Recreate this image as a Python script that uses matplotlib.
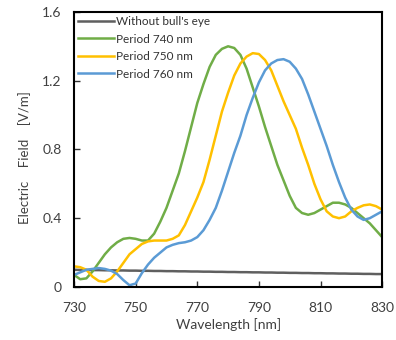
import matplotlib
matplotlib.use("Agg")
import matplotlib.pyplot as plt

plt.rcParams['font.family'] = ['Lato', 'DejaVu Sans']

# wavelength grid (nm)
wl = [730, 732, 734, 736, 738, 740, 742, 744, 746, 748, 750, 752, 754, 756, 758,
      760, 762, 764, 766, 768, 770, 772, 774, 776, 778, 780, 782, 784, 786, 788,
      790, 792, 794, 796, 798, 800, 802, 804, 806, 808, 810, 812, 814, 816, 818,
      820, 822, 824, 826, 828, 830]

no_eye = [0.100, 0.099, 0.099, 0.098, 0.098, 0.097, 0.097, 0.096, 0.096, 0.095,
          0.095, 0.094, 0.094, 0.093, 0.093, 0.092, 0.092, 0.091, 0.091, 0.090,
          0.090, 0.089, 0.089, 0.088, 0.088, 0.087, 0.087, 0.086, 0.086, 0.085,
          0.085, 0.084, 0.084, 0.083, 0.083, 0.082, 0.082, 0.081, 0.081, 0.080,
          0.080, 0.079, 0.079, 0.078, 0.078, 0.077, 0.077, 0.076, 0.076, 0.075,
          0.075]

p740 = [0.07, 0.045, 0.05, 0.09, 0.14, 0.19, 0.23, 0.26, 0.28, 0.285,
        0.28, 0.27, 0.27, 0.31, 0.38, 0.46, 0.56, 0.66, 0.79, 0.93,
        1.07, 1.18, 1.28, 1.35, 1.385, 1.40, 1.39, 1.35, 1.27, 1.16,
        1.05, 0.93, 0.82, 0.71, 0.62, 0.53, 0.46, 0.43, 0.42, 0.43,
        0.45, 0.47, 0.49, 0.49, 0.48, 0.46, 0.43, 0.40, 0.37, 0.33,
        0.29]

p750 = [0.12, 0.115, 0.10, 0.06, 0.035, 0.03, 0.05, 0.09, 0.14, 0.19,
        0.22, 0.25, 0.265, 0.27, 0.27, 0.27, 0.28, 0.30, 0.36, 0.44,
        0.52, 0.61, 0.74, 0.88, 1.02, 1.13, 1.23, 1.30, 1.34, 1.36,
        1.355, 1.32, 1.26, 1.17, 1.08, 1.00, 0.92, 0.81, 0.71, 0.60,
        0.51, 0.44, 0.41, 0.40, 0.41, 0.44, 0.46, 0.475, 0.48, 0.47,
        0.45]

p760 = [0.07, 0.085, 0.10, 0.105, 0.11, 0.105, 0.095, 0.075, 0.04, 0.01,
        0.02, 0.08, 0.13, 0.17, 0.20, 0.23, 0.245, 0.255, 0.26, 0.27,
        0.29, 0.33, 0.39, 0.46, 0.56, 0.67, 0.78, 0.88, 1.00, 1.10,
        1.19, 1.26, 1.30, 1.32, 1.325, 1.31, 1.27, 1.21, 1.12, 1.02,
        0.92, 0.82, 0.71, 0.61, 0.52, 0.45, 0.41, 0.39, 0.40, 0.42,
        0.44]

labels = ["Without bull's eye", "Period 740 nm", "Period 750 nm", "Period 760 nm"]
colors = ["#5f5f5f", "#70ad47", "#ffc000", "#5b9bd5"]

fig = plt.figure(figsize=(3.96, 3.40), dpi=100)
ax = fig.add_axes([0.187, 0.156, 0.778, 0.809])

for ys, lab, c in zip([no_eye, p740, p750, p760], labels, colors):
    ax.plot(wl, ys, color=c, linewidth=1.8, label=lab)

ax.set_xlim(730, 830)
ax.set_ylim(0, 1.6)
ax.set_xticks([730, 750, 770, 790, 810, 830])
ax.set_yticks([0, 0.4, 0.8, 1.2, 1.6])
ax.set_yticklabels(["0", "0.4", "0.8", "1.2", "1.6"])
ax.tick_params(direction='in', length=4, width=1, colors='#333333',
               labelsize=10, labelcolor='#404040')
ax.tick_params(axis='x', pad=11)
ax.tick_params(axis='y', pad=9)
for s in ax.spines.values():
    s.set_linewidth(1.5)
    s.set_color('black')

ax.set_xlabel("Wavelength [nm]", fontsize=10, color='#404040', labelpad=3)
ax.set_ylabel("Electric    Field    [V/m]", fontsize=9.5, color='#404040')
ax.yaxis.set_label_coords(-0.14, 0.47)

ax.legend(loc='upper left', frameon=False, fontsize=8.5, handlelength=3.0,
          handletextpad=0.2, labelspacing=0.55, borderaxespad=0.25,
          borderpad=0.1, labelcolor='#333333')

fig.savefig("out.png", dpi=100)
